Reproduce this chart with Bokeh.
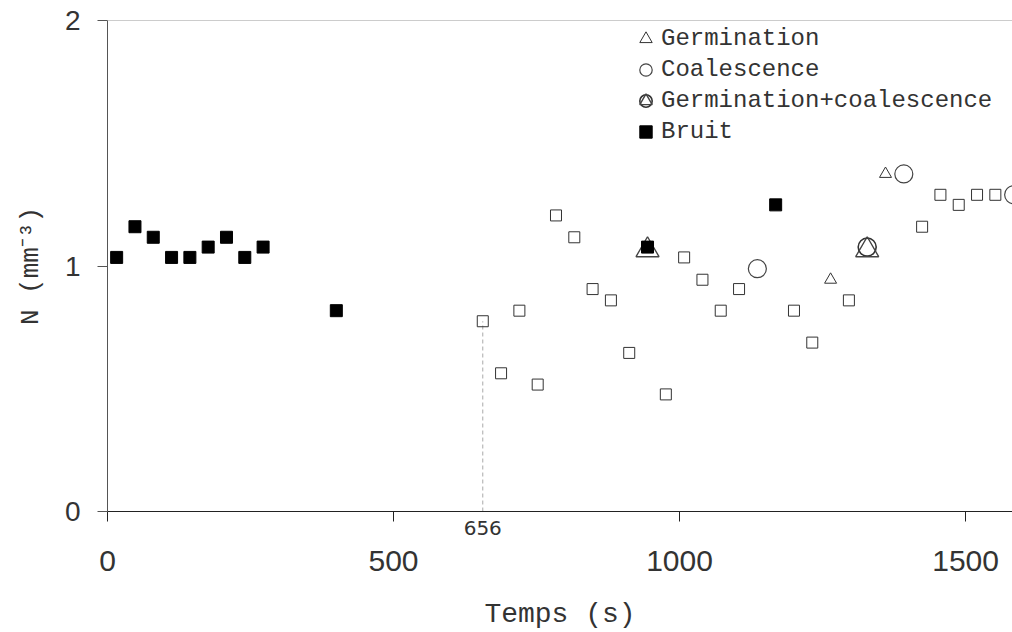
from bokeh.plotting import figure
from bokeh.models import (Range1d, FixedTicker, Span, Legend, LegendItem, LinearAxis)
from bokeh.embed import file_html
from bokeh.resources import INLINE

# ---- data ----
bruit_t = [16, 48, 80, 112, 144, 176, 208, 240, 272, 400, 944, 1168]
bruit_n = [1.035, 1.16, 1.117, 1.035, 1.035, 1.077, 1.117, 1.035, 1.077, 0.818, 1.077, 1.249]

autres_t = [656, 688, 720, 752, 784, 816, 848, 880, 912, 976, 1008, 1040, 1072, 1104,
            1200, 1232, 1296, 1424, 1456, 1488, 1520, 1552]
autres_n = [0.775, 0.563, 0.818, 0.517, 1.206, 1.117, 0.906, 0.86, 0.646, 0.477, 1.035, 0.944,
            0.818, 0.906, 0.818, 0.688, 0.86, 1.16, 1.29, 1.249, 1.29, 1.29]

germ_t = [1264, 1360]
germ_n = [0.944, 1.375]

coal_t = [1136, 1392, 1584]
coal_n = [0.989, 1.375, 1.29]

gc_circle_t = [1328]
gc_circle_n = [1.077]
gc_tri_t = [944, 1328]
gc_tri_n = [1.065, 1.065]

mark_t = [656]
mark_n = [0.775]

x_ticks = [0, 500, 1000, 1500]
y_ticks = [0, 1, 2]
x_label = "Temps (s)"
y_label = "N (mm\u207b\u00b3)"

# ---- figure ----
p = figure(width=1012, height=632, x_range=Range1d(0, 1582), y_range=Range1d(0, 2),
           output_backend="svg", toolbar_location=None, x_axis_location=None,
           min_border_left=107, min_border_right=0, min_border_top=20, min_border_bottom=121)
p.background_fill_color = "white"
p.border_fill_color = "white"
p.outline_line_color = None
p.xgrid.visible = False
p.ygrid.visible = False

TXT = "#333333"
MONO = "Liberation Mono"

# x axis line at the frame: marks 656 (major) and draws the ticks 0..1500 (minor)
ax656 = LinearAxis(ticker=FixedTicker(ticks=mark_t, minor_ticks=x_ticks))
ax656.axis_line_color = "#222222"
ax656.major_tick_line_color = None
ax656.major_tick_in = 0
ax656.major_tick_out = 0
ax656.minor_tick_line_color = "#222222"
ax656.minor_tick_in = 0
ax656.minor_tick_out = 10
ax656.major_label_standoff = -1
ax656.major_label_text_font = "DejaVu Sans"
ax656.major_label_text_font_size = "20px"
ax656.major_label_text_color = TXT

# main x axis: tick labels and title
xmain = LinearAxis(ticker=FixedTicker(ticks=x_ticks))
xmain.axis_line_color = None
xmain.major_tick_line_color = None
xmain.minor_tick_line_color = None
xmain.major_tick_in = 0
xmain.major_tick_out = 0
xmain.major_label_standoff = 13
xmain.major_label_text_font = "Liberation Sans Narrow, Liberation Sans"
xmain.major_label_text_font_size = "30px"
xmain.major_label_text_color = TXT
xmain.axis_label = x_label
xmain.axis_label_text_font = MONO
xmain.axis_label_text_font_style = "normal"
xmain.axis_label_text_font_size = "28px"
xmain.axis_label_text_color = TXT
xmain.axis_label_standoff = 25

p.below = [ax656, xmain]

# y axis
ya = p.yaxis[0]
ya.ticker = FixedTicker(ticks=y_ticks)
ya.minor_tick_line_color = None
ya.major_tick_in = 0
ya.major_tick_out = 10
ya.axis_line_color = "#555555"
ya.major_tick_line_color = "#555555"
ya.major_label_text_font = "Liberation Sans"
ya.major_label_text_font_size = "28px"
ya.major_label_text_color = TXT
ya.major_label_standoff = 17
ya.axis_label = y_label
ya.axis_label_text_font = MONO
ya.axis_label_text_font_style = "normal"
ya.axis_label_text_font_size = "26px"
ya.axis_label_text_color = TXT
ya.axis_label_standoff = 16

# top frame line
p.add_layout(Span(location=y_ticks[-1], dimension="width", line_color="#999999", line_width=1))

# dashed marker line
p.segment(x0=mark_t, y0=[0] * len(mark_t), x1=mark_t, y1=mark_n,
          line_color="#aaaaaa", line_dash="4 3", line_width=1)

# glyphs
r_aut = p.scatter(autres_t, autres_n, marker="square", size=11, fill_color=None,
                  line_color="#333333", line_width=1)
r_coal = p.scatter(coal_t, coal_n, marker="circle", size=18, fill_color=None,
                   line_color="#444444", line_width=1.2)
r_germ = p.scatter(germ_t, germ_n, marker="triangle", size=12, fill_color=None,
                   line_color="#333333", line_width=1)
r_gcc = p.scatter(gc_circle_t, gc_circle_n, marker="circle", size=18, fill_color=None,
                  line_color="#333333", line_width=1.6)
r_gct = p.scatter(gc_tri_t, gc_tri_n, marker="triangle", size=23, fill_color=None,
                  line_color="#444444", line_width=1.4)
r_bruit = p.scatter(bruit_t, bruit_n, marker="square", size=12, fill_color="black",
                    line_color="black", line_width=1)

legend = Legend(items=[
    LegendItem(label="Germination", renderers=[r_germ]),
    LegendItem(label="Coalescence", renderers=[r_coal]),
    LegendItem(label="Germination+coalescence", renderers=[r_gcc, r_gct]),
    LegendItem(label="Bruit", renderers=[r_bruit]),
], location=(523, 364))
legend.border_line_color = None
legend.background_fill_alpha = 0
legend.glyph_width = 31
legend.glyph_height = 31
legend.label_height = 31
legend.spacing = 0
legend.padding = 0
legend.margin = 0
legend.label_standoff = 0
legend.label_text_font = MONO
legend.label_text_font_size = "24px"
legend.label_text_color = TXT
p.add_layout(legend)

open("out.html", "w").write(file_html(p, INLINE))
